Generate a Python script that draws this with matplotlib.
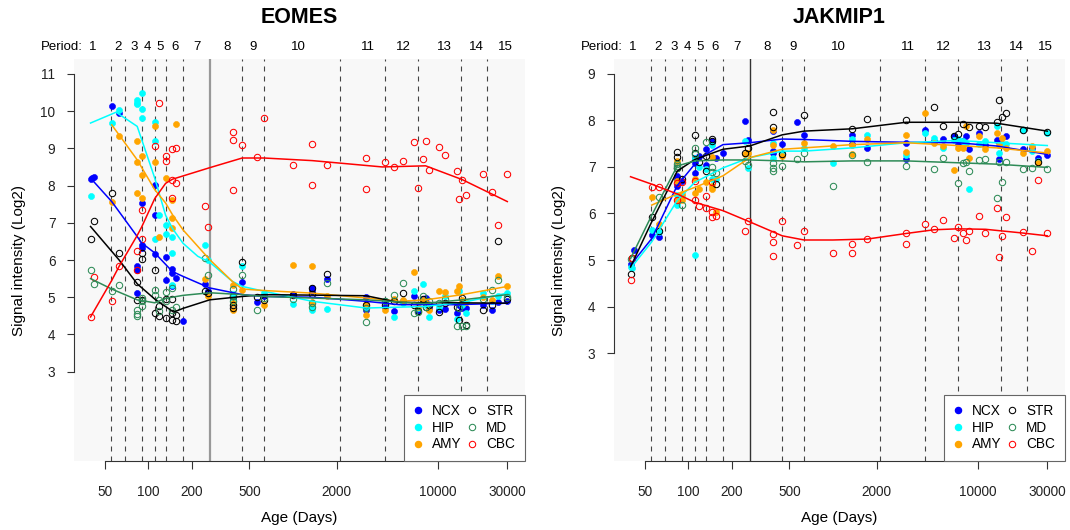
import numpy as np
import matplotlib
matplotlib.use('Agg')
import matplotlib.pyplot as plt
from matplotlib.lines import Line2D

plt.rcParams['font.family'] = ['Liberation Sans', 'DejaVu Sans']

nan = np.nan

# donor ages (days), shared by both genes
AGES = [40, 41, 42, 56, 63, 84, 84, 84,
        90, 90, 90, 111, 111, 111, 119, 119,
        132, 132, 147, 147, 147, 155, 155, 174,
        245, 258, 385, 385, 385, 446, 565, 632,
        1000, 1360, 1360, 1725, 3190, 3190, 4290, 5000,
        5730, 6870, 7250, 7920, 8300, 8660, 10160, 11300,
        13500, 13900, 14650, 15650, 20400, 23700, 25900, 30200]

REGIONS = ['NCX', 'HIP', 'AMY', 'STR', 'MD', 'CBC']
COLORS = ['#0000FF', '#00FFFF', '#FFA500', '#000000', '#2E8B57', '#FF0000']
FILLED = [True, True, True, False, False, False]

# period boundaries (days) and where the period numbers sit
PERIOD_BOUNDS = [55, 69.5, 90, 111, 132, 174, 266, 446, 632, 2100, 4290, 7280, 14530, 21830]
BIRTH = 266
PERIOD_LABELS = [str(i) for i in range(1, 16)]
PERIOD_LABEL_AGES = [41.7, 62, 79.6, 99.5, 120.6, 152.6, 218, 351, 532, 1095,
                     3270, 5780, 11100, 18370, 29250]

XTICKS = [50, 100, 200, 500, 2000, 10000, 30000]

# ---- EOMES ----
EOMES_NCX = [8.17, 8.19, 8.22, 10.14, 9.94, 5.85, 5.74, 5.11,
             7.53, 6.41, 6.32, 8.02, 7.22, 6.17, nan, nan,
             6.08, 5.47, 5.76, 5.65, 5.29, 5.52, nan, 4.35,
             5.36, 5.18, 4.98, 5.00, 4.90, 5.40, 4.86, 5.02,
             5.09, 5.25, 5.18, 5.49, 5.01, 4.66, 4.75, 4.62,
             4.90, 5.04, 4.62, 4.95, 4.98, 4.70, 4.66, 4.68,
             4.57, 4.80, 4.72, 4.70, 4.80, 4.65, 4.86, 4.89]
EOMES_HIP = [7.71, nan, nan, 9.69, 10.03, 10.30, 10.23, 10.20,
             10.48, 10.05, 9.81, 9.72, 9.19, 6.56, 7.22, nan,
             6.95, 6.70, 6.62, 6.19, 5.33, nan, nan, nan,
             6.41, 6.01, 5.10, 4.90, nan, 5.85, nan, 5.11,
             4.82, 4.66, 4.75, 4.68, 4.75, nan, 4.89, 4.47,
             4.85, 5.18, 4.70, 5.36, 4.80, 4.47, 4.75, 5.04,
             4.41, 5.16, 4.80, 4.57, 5.11, 4.90, 5.04, 5.11]
EOMES_AMY = [nan, nan, nan, 7.55, 9.34, 9.19, 8.62, 7.80,
             8.80, 8.29, 7.66, 9.59, 8.62, nan, 6.63, nan,
             8.20, nan, 7.60, 7.13, 6.86, 9.65, nan, nan,
             5.49, 5.02, 5.33, 4.84, 4.67, 5.20, nan, 4.80,
             5.87, 5.85, 4.86, 5.02, 4.83, 4.53, 4.66, 4.95,
             4.93, 5.69, 4.75, 4.92, 4.85, 4.66, 5.16, 5.14,
             5.18, 5.29, 4.93, 4.86, 5.00, 4.93, 5.56, 5.29]
EOMES_STR = [6.56, nan, 7.04, 7.80, 6.20, 5.42, 4.93, nan,
             6.19, 6.03, 4.93, 5.74, 4.58, nan, 4.76, 4.50,
             4.96, 4.44, 4.95, 4.57, 4.40, 4.53, 4.35, nan,
             5.18, 5.11, 5.02, 4.80, 4.70, 5.94, 5.00, 4.93,
             5.07, 5.25, 5.10, 5.63, 4.80, nan, 4.80, 4.90,
             5.11, 4.78, 4.62, 4.95, 4.75, 4.80, 4.60, 4.85,
             4.75, 4.40, 4.98, 4.26, 4.66, 4.80, 6.50, 4.95]
EOMES_MD = [5.74, nan, 5.36, 5.16, 5.34, 4.66, 4.55, 4.50,
            4.76, 4.98, 4.89, 5.20, 5.07, nan, 4.93, 4.62,
            5.15, 4.89, 5.25, 4.67, nan, 4.75, nan, nan,
            6.05, 5.60, 5.22, 5.04, 4.89, 5.60, 4.67, 4.98,
            4.95, 4.74, 4.85, 5.38, 4.70, 4.33, 4.89, 5.07,
            5.38, 4.58, 4.60, 5.04, 4.75, 4.90, 4.85, 4.95,
            4.24, 4.70, 4.24, 4.24, 4.95, 5.20, 5.47, 5.00]
EOMES_CBC = [4.46, nan, 5.54, 4.89, 5.85, 6.23, 5.74, nan,
             7.35, 6.56, nan, 9.05, nan, nan, 10.23, nan,
             8.80, 8.65, 8.98, 8.16, 7.66, 9.01, 8.07, nan,
             7.46, 6.90, 9.45, 9.23, 7.89, 9.09, 8.76, 9.81,
             8.56, 9.12, 8.02, 8.56, 8.74, 7.91, 8.62, 8.49,
             8.67, 9.17, 7.94, 8.71, 9.20, 8.42, 9.03, 8.83,
             8.38, 7.64, 8.14, 7.75, 8.32, 7.82, 6.94, 8.32]

# smoothed trend lines (age, value)
EOMES_FIT_NCX_AGE = [40, 56, 84, 90, 111, 147, 174, 266, 446, 632, 1360, 3190, 5400, 13500, 30200]
EOMES_FIT_NCX = [8.2, 7.57, 6.63, 6.46, 6.19, 5.69, 5.56, 5.25, 5.07, 5.02, 5.0, 4.89, 4.8, 4.8, 4.84]
EOMES_FIT_HIP_AGE = [40, 60, 84, 111, 132, 147, 174, 220, 266, 380, 446, 632, 1360, 3190, 8000, 14750, 30200]
EOMES_FIT_HIP = [9.68, 9.97, 9.59, 8.2, 7.2, 6.85, 6.45, 6.1, 5.94, 5.43, 5.29, 5.16, 4.89, 4.71, 4.75, 4.86, 5.11]
EOMES_FIT_AMY_AGE = [56, 63, 84, 111, 132, 147, 174, 266, 380, 446, 632, 1360, 3190, 5400, 8240, 14750, 30200]
EOMES_FIT_AMY = [9.63, 9.36, 8.69, 7.89, 7.53, 7.22, 6.81, 6.01, 5.43, 5.22, 5.18, 5.11, 4.98, 4.89, 4.93, 5.07, 5.29]
EOMES_FIT_STR_AGE = [40, 63, 84, 111, 150, 174, 266, 446, 632, 3190, 5400, 30200]
EOMES_FIT_STR = [6.9, 6.0, 5.36, 4.95, 4.6, 4.7, 4.93, 5.02, 5.07, 5.04, 4.86, 4.84]
EOMES_FIT_MD_AGE = [40, 56, 84, 111, 132, 174, 266, 446, 632, 3190, 8000, 14750, 30200]
EOMES_FIT_MD = [5.5, 5.22, 4.93, 4.85, 4.97, 5.05, 5.12, 5.07, 5.02, 4.93, 4.83, 4.93, 5.07]
EOMES_FIT_CBC_AGE = [40, 56, 63, 84, 90, 111, 132, 147, 266, 446, 632, 1360, 4140, 8240, 14750, 30200]
EOMES_FIT_CBC = [4.47, 5.45, 5.83, 6.66, 6.88, 7.65, 8.06, 8.17, 8.48, 8.74, 8.74, 8.67, 8.5, 8.53, 8.16, 7.57]

# ---- JAKMIP1 ----
JAKMIP1_NCX = [4.91, nan, 5.21, 5.53, 5.50, 6.81, 6.74, 6.60,
               6.70, nan, nan, 6.88, 7.09, 7.20, 7.23, nan,
               7.38, 7.05, 7.53, 7.55, nan, 7.20, nan, 7.29,
               7.98, 7.57, 7.77, 7.34, 7.30, 7.50, 7.96, 7.69,
               nan, 7.69, 7.50, 7.40, 7.52, 7.18, 7.80, 7.55,
               7.59, 7.66, 7.50, 7.55, 7.66, 7.38, 7.72, 7.48,
               7.58, 7.18, 7.50, 7.66, 7.38, 7.40, 7.20, 7.25]
JAKMIP1_HIP = [4.86, 4.82, nan, 5.64, 5.60, 6.18, 6.40, nan,
               6.38, nan, nan, 7.20, 5.11, nan, 7.00, nan,
               6.95, nan, 7.48, 6.74, nan, 6.74, nan, nan,
               7.55, 6.98, 7.52, 7.20, nan, 7.30, nan, 7.41,
               7.08, 7.61, nan, 7.69, 7.25, nan, 7.72, 7.62,
               7.40, 7.57, 7.60, 7.55, 7.52, 6.52, 7.50, 7.55,
               7.87, 7.30, 7.50, 7.50, 7.80, 7.35, 7.13, 7.74]
JAKMIP1_AMY = [nan, nan, nan, 6.36, 5.78, 7.13, 6.70, 6.30,
               6.42, 6.28, nan, 6.74, 6.45, nan, 6.52, nan,
               6.67, nan, 7.22, 6.60, 6.52, 6.03, nan, nan,
               7.27, 7.31, 7.80, 7.48, nan, 7.23, nan, 7.52,
               7.46, 7.48, 7.27, 7.61, 7.69, 7.33, 8.16, 7.52,
               7.46, 6.94, 7.41, 7.40, 7.87, 7.20, 7.67, 7.38,
               7.73, 7.48, 7.62, 7.41, 7.30, 7.46, 7.09, 7.34]
JAKMIP1_STR = [4.69, 5.05, nan, 5.93, 5.62, 7.32, 7.22, 6.98,
               6.75, nan, nan, 7.69, 7.30, nan, 7.10, nan,
               7.23, 6.92, 7.60, 7.55, nan, 6.63, nan, nan,
               7.30, 7.41, 8.19, 7.86, nan, 7.27, nan, 8.12,
               nan, 7.82, nan, 8.03, 8.01, nan, nan, 8.28,
               7.87, 7.67, 7.70, 7.92, nan, 7.86, 7.89, 7.86,
               7.96, 8.43, 8.08, 8.17, 7.80, nan, 7.10, 7.75]
JAKMIP1_MD = [5.02, nan, nan, nan, 6.35, 7.06, 6.98, 7.02,
              6.18, nan, nan, 7.41, 7.28, nan, nan, nan,
              7.53, nan, 6.89, 7.00, nan, 6.88, nan, nan,
              7.13, 7.05, 7.09, 6.98, 6.91, 7.02, 7.18, 7.29,
              6.58, 7.26, nan, 7.11, 7.01, nan, nan, 6.96,
              7.20, nan, 6.65, 7.09, 7.10, 6.91, 7.14, 7.18,
              6.33, 7.11, 6.68, 7.11, 6.96, 6.98, nan, 6.95]
JAKMIP1_CBC = [4.57, 5.05, nan, 6.57, 6.57, 6.28, 6.66, nan,
               6.67, nan, nan, 6.28, 6.70, nan, 6.17, nan,
               6.38, 6.11, 6.68, 6.03, 5.92, 5.95, nan, nan,
               5.62, 5.83, 5.55, 5.39, 5.09, 5.83, 5.32, 5.62,
               5.15, 5.34, 5.14, 5.45, 5.57, 5.35, 5.77, 5.67,
               5.85, 5.48, 5.71, 5.59, 5.43, 5.62, 5.94, 5.59,
               6.11, 5.07, 5.52, 5.92, 5.60, 5.19, 6.72, 5.57]

JAKMIP1_FIT_NCX_AGE = [40, 56, 84, 111, 132, 174, 266, 446, 632, 1360, 3200, 7250, 13500, 30200]
JAKMIP1_FIT_NCX = [4.89, 5.46, 6.6, 7.06, 7.27, 7.48, 7.52, 7.6, 7.59, 7.55, 7.53, 7.52, 7.45, 7.27]
JAKMIP1_FIT_HIP_AGE = [40, 56, 84, 111, 174, 266, 446, 632, 1360, 3200, 7250, 13500, 30200]
JAKMIP1_FIT_HIP = [4.82, 5.39, 6.28, 6.67, 6.98, 7.2, 7.34, 7.34, 7.41, 7.52, 7.57, 7.52, 7.46]
JAKMIP1_FIT_AMY_AGE = [56, 84, 111, 174, 266, 446, 632, 1360, 3200, 7250, 13500, 30200]
JAKMIP1_FIT_AMY = [6.18, 6.42, 6.56, 6.81, 7.2, 7.38, 7.41, 7.48, 7.52, 7.46, 7.41, 7.3]
JAKMIP1_FIT_STR_AGE = [40, 56, 84, 111, 174, 266, 446, 632, 1360, 3200, 7250, 13500, 30200]
JAKMIP1_FIT_STR = [4.85, 5.82, 6.91, 7.16, 7.38, 7.45, 7.69, 7.77, 7.82, 7.96, 7.96, 7.94, 7.77]
JAKMIP1_FIT_MD_AGE = [40, 56, 84, 111, 174, 266, 446, 632, 1360, 3200, 7250, 13500, 30200]
JAKMIP1_FIT_MD = [5.03, 5.96, 7.02, 7.13, 7.15, 7.15, 7.13, 7.11, 7.13, 7.13, 7.09, 7.06, 6.99]
JAKMIP1_FIT_CBC_AGE = [40, 56, 84, 111, 174, 266, 446, 632, 1000, 1725, 3200, 5000, 7250, 11300, 20400, 30200]
JAKMIP1_FIT_CBC = [6.79, 6.63, 6.42, 6.24, 6.06, 5.82, 5.52, 5.43, 5.43, 5.45, 5.57, 5.65, 5.67, 5.66, 5.58, 5.52]


def draw_panel(ax, title, points, fits, ylim, yticks, birth_color, birth_lw):
    ax.set_facecolor('#F8F8F8')
    ax.set_xscale('log')
    ax.set_xlim(30.5, 39700)
    ax.set_ylim(*ylim)

    for b in PERIOD_BOUNDS:
        if b == BIRTH:
            ax.axvline(b, color=birth_color, lw=birth_lw, zorder=1)
        else:
            ax.axvline(b, color='#444444', lw=0.8, ls=(0, (4.5, 4.5)), zorder=1)

    ages = np.array(AGES, dtype=float)
    for vals, col, filled in zip(points, COLORS, FILLED):
        if filled:
            ax.plot(ages, vals, 'o', ms=4.4, mfc=col, mec=col, mew=0.4, ls='none', zorder=3)
        else:
            ax.plot(ages, vals, 'o', ms=4.6, mfc='none', mec=col, mew=0.75, ls='none', zorder=3)
    for (fa, fv), col in zip(fits, COLORS):
        ax.plot(fa, fv, color=col, lw=1.1, zorder=4)

    for s in ['top', 'right']:
        ax.spines[s].set_visible(False)
    ax.spines['left'].set_bounds(yticks[0], yticks[-1])
    ax.spines['bottom'].set_bounds(XTICKS[0], XTICKS[-1])
    for s in ['left', 'bottom']:
        ax.spines[s].set_color('#333333')
        ax.spines[s].set_linewidth(0.8)

    ax.set_xticks(XTICKS)
    ax.set_xticklabels([str(t) for t in XTICKS])
    ax.xaxis.set_minor_locator(matplotlib.ticker.NullLocator())
    ax.set_yticks(yticks)
    ax.set_yticklabels([str(t) for t in yticks])
    ax.tick_params(axis='x', length=6, width=0.8, pad=11, labelsize=9.8, colors='#333333',
                   labelcolor='#222222')
    ax.tick_params(axis='y', length=5, width=0.8, pad=8, labelsize=9.8, colors='#333333',
                   labelcolor='#222222')

    tr = ax.get_xaxis_transform()
    ax.text(35.3, 1.03, 'Period:', transform=tr, ha='right', va='center', fontsize=9.5)
    for lab, a in zip(PERIOD_LABELS, PERIOD_LABEL_AGES):
        ax.text(a, 1.03, lab, transform=tr, ha='center', va='center', fontsize=9.5)

    ax.text(0.5, 1.102, title, transform=ax.transAxes, ha='center', va='center',
            fontsize=15.5, fontweight='bold')
    ax.text(-0.12, 0.5, 'Signal intensity (Log2)', transform=ax.transAxes, rotation=90,
            ha='center', va='center', fontsize=11)
    ax.text(0.5, -0.142, 'Age (Days)', transform=ax.transAxes, ha='center', va='center',
            fontsize=11)

    handles = []
    for col, filled in zip(COLORS, FILLED):
        if filled:
            handles.append(Line2D([], [], marker='o', ls='none', ms=4.4, mfc=col, mec=col))
        else:
            handles.append(Line2D([], [], marker='o', ls='none', ms=4.6, mfc='none', mec=col, mew=0.75))
    leg = ax.legend(handles, REGIONS, ncol=2, loc='lower right', bbox_to_anchor=(1, 0),
                    borderaxespad=0, frameon=True, fancybox=False, edgecolor='#666666',
                    framealpha=1, fontsize=9.8, handlelength=0.8, handletextpad=0.6,
                    columnspacing=0.4, labelspacing=0.2, borderpad=0.7)
    leg.get_frame().set_linewidth(0.8)
    leg.set_zorder(6)


fig = plt.figure(figsize=(10.7, 5.3), dpi=100)
W, H = 1070.0, 530.0
ax1 = fig.add_axes([73.5 / W, (H - 461) / H, 451 / W, 402 / H])
ax2 = fig.add_axes([613.5 / W, (H - 461) / H, 451 / W, 402 / H])

draw_panel(ax1, 'EOMES',
           [EOMES_NCX, EOMES_HIP, EOMES_AMY, EOMES_STR, EOMES_MD, EOMES_CBC],
           [(EOMES_FIT_NCX_AGE, EOMES_FIT_NCX), (EOMES_FIT_HIP_AGE, EOMES_FIT_HIP),
            (EOMES_FIT_AMY_AGE, EOMES_FIT_AMY), (EOMES_FIT_STR_AGE, EOMES_FIT_STR),
            (EOMES_FIT_MD_AGE, EOMES_FIT_MD), (EOMES_FIT_CBC_AGE, EOMES_FIT_CBC)],
           (0.6, 11.4), list(range(3, 12)), '#999999', 1.6)
draw_panel(ax2, 'JAKMIP1',
           [JAKMIP1_NCX, JAKMIP1_HIP, JAKMIP1_AMY, JAKMIP1_STR, JAKMIP1_MD, JAKMIP1_CBC],
           [(JAKMIP1_FIT_NCX_AGE, JAKMIP1_FIT_NCX), (JAKMIP1_FIT_HIP_AGE, JAKMIP1_FIT_HIP),
            (JAKMIP1_FIT_AMY_AGE, JAKMIP1_FIT_AMY), (JAKMIP1_FIT_STR_AGE, JAKMIP1_FIT_STR),
            (JAKMIP1_FIT_MD_AGE, JAKMIP1_FIT_MD), (JAKMIP1_FIT_CBC_AGE, JAKMIP1_FIT_CBC)],
           (0.68, 9.32), list(range(3, 10)), '#333333', 1.0)

fig.savefig('out.png', dpi=100)
